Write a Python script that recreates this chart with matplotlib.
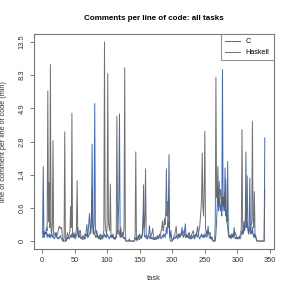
import numpy as np
import matplotlib
matplotlib.use("Agg")
import matplotlib.pyplot as plt

# comments per line of code, one value per task (task 1 .. 342)
c_vals = [
    0.1, 1.72, 0.05, 0.1, 0.13, 0.1, 0.13, 0.05, 0.1, 0.08, 0.05, 0.1, 0.05, 0.08, 0.1, 0.05, 0.08, 0.05, 0.03, 0.05,
    0.08, 0.12, 0.05, 0.03, 0.05, 0.03, 0.05, 0.08, 0.05, 0.03, 0.02, 0, 0, 0, 0, 0, 0, 0.02, 0.05, 0.03,
    0.05, 0.03, 0.05, 0.08, 0.05, 0.1, 0.08, 0.05, 0.12, 0.05, 0.03, 0.05, 0.08, 0.1, 0.2, 0.1, 0.05, 0.08, 0.05, 0.03,
    0.05, 0.03, 0.02, 0.03, 0.05, 0.03, 0.05, 0.08, 0.1, 0.05, 0.15, 0.3, 0.45, 0.2, 0.1, 0.3, 2.68, 0.2, 0.1, 0.3,
    5.34, 0.2, 0.1, 0.15, 0.08, 0.05, 0.06, 0.03, 0.05, 0.02, 0.03, 0.05, 0.03, 0.05, 0.08, 0.1, 0.05, 0.08, 0.05, 0.1,
    0.08, 0.05, 0.03, 0.05, 0.08, 0.05, 0.08, 0.05, 0.1, 0.05, 0.03, 0.05, 0.03, 0.05, 0.1, 0.15, 0.3, 0.8, 4.52, 0.1,
    0.05, 0.08, 0.1, 0.12, 0.05, 0.03, 0.05, 0.02, 0, 0, 0, 0, 0, 0.03, 0, 0, 0, 0, 0, 0,
    0, 0, 0.02, 0.05, 0.02, 0.03, 0.05, 0.08, 0.05, 0.1, 0.05, 0.03, 0.05, 0.08, 0.2, 1.13, 0.1, 0.05, 0.08, 0.05,
    0.03, 0.05, 0.08, 0.1, 0.23, 0.1, 0.05, 0.03, 0.05, 0.03, 0.02, 0.03, 0.05, 0.03, 0.02, 0.03, 0.05, 0.03, 0.05, 0.08,
    0.1, 0.05, 0.03, 0.05, 0.08, 0.05, 0.1, 0.08, 0.05, 0.1, 0.2, 0.1, 0.3, 0.5, 2.19, 0.1, 0.05, 0.15, 0.03, 0,
    0.02, 0.03, 0.05, 0.03, 0.05, 0.08, 0.05, 0.03, 0.05, 0.08, 0.1, 0.05, 0.08, 0.12, 0.2, 0.1, 0.05, 0.08, 0.15, 0.26,
    0.1, 0.05, 0.08, 0.05, 0.1, 0.12, 0.05, 0.03, 0.05, 0.03, 0.05, 0.08, 0.05, 0.03, 0.05, 0.08, 0.1, 0.15, 0.22, 0.1,
    0.05, 0.03, 0.05, 0.08, 0.1, 0.05, 0.08, 0.05, 0.1, 0.05, 0.08, 0.1, 0.15, 0.1, 0.22, 0.1, 0.05, 0.03, 0.05, 0.03,
    0.06, 0.02, 0, 0, 0, 0, 0.1, 0.3, 0.6, 1.72, 0.5, 0.8, 0.6, 0.5, 0.7, 0.4, 9.0, 0.6, 0.8, 0.5,
    1.67, 0.4, 0.5, 0.3, 1.91, 0.2, 0.1, 0.05, 0.08, 0.05, 0.1, 0.05, 0.08, 0.1, 0.2, 0.05, 0.03, 0.05, 0.03, 0.05,
    0.03, 0.05, 0.06, 0.03, 0.05, 0.1, 0.15, 0.1, 0.2, 0.3, 0.15, 0.2, 2.31, 0.2, 0.3, 0.2, 0.1, 0.2, 1.33, 0.1,
    0.15, 0.1, 0.2, 0.1, 0.05, 0.1, 0.05, 0.08, 0.02, 0, 0, 0, 0, 0, 0, 0, 0, 0, 0, 0, 0, 3.0,
]

hs_vals = [
    0.05, 0.1, 0.15, 0.08, 0.12, 0.1, 0.2, 0.15, 6.5, 0.3, 1.2, 0.2, 9.7, 0.15, 0.1, 0.25, 2.85, 0.1, 0.08, 0.12,
    0.1, 0.05, 0.08, 0.1, 0.15, 0.2, 0.22, 0.18, 0.2, 0.2, 0.1, 0, 0, 0.05, 3.33, 0, 0, 0.05, 0.12, 0.08,
    0.05, 0.1, 0.15, 0.59, 0.2, 4.57, 0.1, 0.05, 0.08, 0.1, 0.05, 0.1, 0.2, 1.25, 0.1, 0.05, 0.08, 0.15, 0.15, 0.05,
    0.03, 0.05, 0.08, 0.05, 0.03, 0.1, 0.08, 0.15, 0.25, 0.1, 0.05, 0.08, 0.1, 0.15, 0.2, 0.4, 0.99, 0.3, 0.1, 0.15,
    0.1, 0.05, 0.08, 0.05, 0.1, 0.05, 0.03, 0.08, 0.05, 0.1, 0.05, 0.08, 0.05, 0.1, 0.15, 13.5, 0.3, 0.15, 0.1, 0.2,
    8.5, 0.3, 0.2, 0.15, 1.15, 0.1, 0.05, 0.08, 0.05, 0.03, 0.05, 0.02, 0.05, 0.1, 4.35, 0.4, 0.1, 0.15, 0.1, 0.05,
    0.2, 0.1, 0.05, 0.08, 0.1, 0.2, 9.27, 0.1, 0, 0, 0, 0, 0, 0, 0, 0, 0, 0, 0, 0,
    0, 0.02, 0.1, 2.31, 0.05, 0, 0.03, 0.05, 0.02, 0.03, 0.05, 0.07, 0.05, 0.1, 0.3, 0.5, 0.2, 0.3, 1.64, 0.1,
    0.05, 0.03, 0.05, 0.08, 0.05, 0.03, 0.05, 0.1, 0.12, 0.18, 0.05, 0.03, 0.02, 0.05, 0.03, 0.05, 0.08, 0.05, 0.03, 0.05,
    0.08, 0.1, 0.15, 0.2, 0.31, 0.15, 0.2, 0.35, 0.25, 0.5, 1.64, 0.4, 0.7, 0.2, 0.3, 0.05, 0, 0, 0, 0,
    0.03, 0.05, 0.08, 0.1, 0.15, 0.22, 0.1, 0.05, 0.08, 0.1, 0.05, 0.08, 0.1, 0.12, 0.08, 0.1, 0.12, 0.15, 0.1, 0.05,
    0.08, 0.1, 0.05, 0.08, 0.05, 0.03, 0.05, 0.08, 0.05, 0.1, 0.12, 0.15, 0.1, 0.05, 0.08, 0.1, 0.1, 0.05, 0.08, 0.1,
    0.15, 0.2, 0.35, 0.5, 0.8, 2.26, 0.6, 0.4, 1.0, 3.37, 0.2, 0.1, 0.05, 0.08, 0.1, 0.12, 0.1, 0.12, 0.05, 0.03,
    0.02, 0, 0, 0, 0, 0.3, 8.04, 0.8, 1.1, 0.6, 0.9, 1.23, 0.7, 1.0, 0.9, 0.6, 0.8, 0.5, 0.7, 0.9,
    0.6, 1.3, 0.4, 0.3, 0.2, 0.1, 0.05, 0.08, 0.05, 0.03, 0.05, 0.08, 0.1, 0.05, 0.08, 0.1, 0.12, 0.08, 0.05, 0.03,
    0.05, 0.03, 0.05, 0.08, 0.1, 0.2, 3.47, 0.3, 0.1, 0.15, 0.2, 0.3, 0.5, 0.3, 1.4, 0.2, 0.1, 0.15, 0.2, 0.15,
    0.2, 0.3, 4.0, 0.3, 0.2, 0.94, 0.1, 0.05, 0.03, 0, 0, 0, 0, 0, 0, 0, 0, 0, 0, 0, 0, 0.99,
]

ytick_labels = ["0", "0.6", "1.4", "2.8", "4.9", "8.3", "13.5"]
xticks = [0, 50, 100, 150, 200, 250, 300, 350]

plt.rcParams['font.family'] = ['Liberation Sans', 'DejaVu Sans']

tasks = np.arange(1, len(c_vals) + 1)
c = np.log1p(np.array(c_vals))
hs = np.log1p(np.array(hs_vals))
top = max(c.max(), hs.max())

fig = plt.figure(figsize=(2.91, 2.91), dpi=100)
ax = fig.add_axes([0.1158, 0.1443, 0.8247, 0.7388])

ax.plot(tasks, c, color='#3a6cc4', lw=0.7, label='C')
ax.plot(tasks, hs, color='#606060', lw=0.7, alpha=0.9, label='Haskell')

ax.set_xlim(1 - 0.04 * (len(tasks) - 1), len(tasks) + 0.04 * (len(tasks) - 1))
ax.set_ylim(-0.04 * top, top * 1.04)
ax.set_xticks(xticks)
ax.set_yticks(np.linspace(0, top, len(ytick_labels)))
ax.set_yticklabels(ytick_labels, rotation=90, va='center')

for s in ax.spines.values():
    s.set_color('#777777')
    s.set_linewidth(0.8)
ax.tick_params(colors='#777777', labelcolor='#333333', labelsize=5.4,
               length=3, width=0.7, pad=3)

ax.set_title('Comments per line of code: all tasks', fontsize=5.8,
             fontweight='bold', pad=10)
ax.set_xlabel('task', fontsize=5.4, color='#333333', labelpad=8)
ax.set_ylabel('line of comment per line of code (min)', fontsize=5.2,
              color='#333333', labelpad=8)

leg = ax.legend(loc='upper right', fontsize=5.2, frameon=True, fancybox=False,
                borderaxespad=0, handlelength=2.0, borderpad=0.6)
leg.get_frame().set_edgecolor('#777777')
leg.get_frame().set_linewidth(0.8)

fig.savefig('out.png', dpi=100)
